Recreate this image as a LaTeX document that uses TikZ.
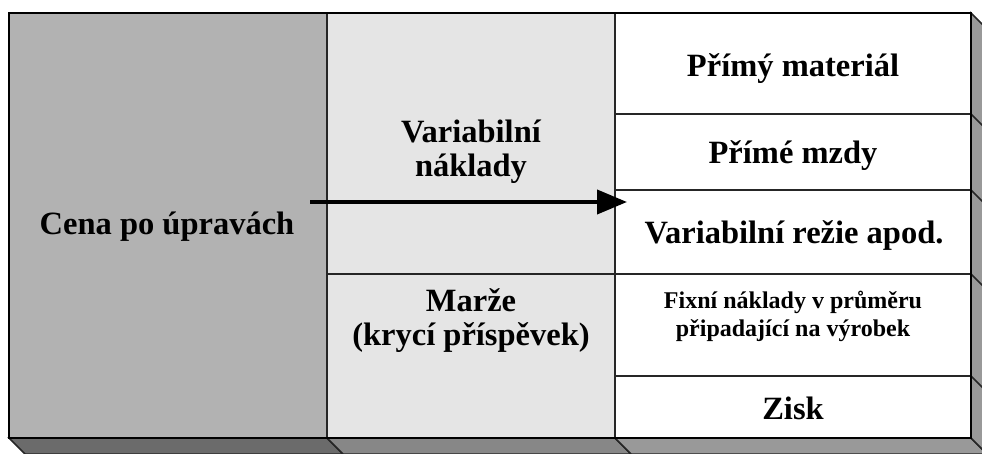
\documentclass[tikz,border=0pt]{standalone}
\usepackage{fontspec}
\setmainfont{Liberation Serif}
\usetikzlibrary{arrows.meta}
\tikzset{
  celltext/.style={font=\bfseries\fontsize{32.5}{34}\selectfont,align=center},
  smalltext/.style={font=\bfseries\fontsize{24}{28}\selectfont,align=center},
  cellline/.style={draw=black!85,line width=1.5pt},
}
\begin{document}
\begin{tikzpicture}[x=1pt,y=-1pt]
  \useasboundingbox (0,0) rectangle (982,454);
  \clip (0,0) rectangle (982,454);
  % depth faces
  \filldraw[fill=black!58,cellline] (9,438) -- (327,438) -- (343,454) -- (25,454) -- cycle;
  \filldraw[fill=black!47,cellline] (327,438) -- (615,438) -- (631,454) -- (343,454) -- cycle;
  \filldraw[fill=black!40,cellline] (615,438) -- (971,438) -- (987,454) -- (631,454) -- cycle;
  \filldraw[fill=black!40,cellline] (971,13) -- (987,29) -- (987,454) -- (971,438) -- cycle;
  \foreach \yy in {114,190,274,376}
    \draw[cellline] (971,\yy) -- (987,\yy+16);
  % columns
  \filldraw[fill=black!30,cellline] (9,13) rectangle (327,438);
  \filldraw[fill=black!10,cellline] (327,13) rectangle (615,274);
  \filldraw[fill=black!10,cellline] (327,274) rectangle (615,438);
  \foreach \ya/\yb in {13/114,114/190,190/274,274/376,376/438}
    \filldraw[fill=white,cellline] (615,\ya) rectangle (971,\yb);
  \draw[line width=2pt] (9,13) rectangle (971,438);
  % texts
  \node[celltext] (cena) at (167,227) {Cena po úpravách};
  \node[celltext] (varnakl) at (471,152) {Variabilní\\náklady};
  \node[celltext] (marze) at (471,321) {Marže\\(krycí příspěvek)};
  \node[celltext] (material) at (793,69) {Přímý materiál};
  \node[celltext] (mzdy) at (793,156) {Přímé mzdy};
  \node[celltext] (rezie) at (794,236) {Variabilní režie apod.};
  \node[smalltext] (fixni) at (793,316) {Fixní náklady v průměru\\připadající na výrobek};
  \node[celltext] (zisk) at (793,408) {Zisk};
  % arrow
  \coordinate (arrstart) at (310,202);
  \coordinate (arrend) at (627,202);
  \draw[line width=4pt,-{Triangle[length=30pt,width=24pt]}] (arrstart) -- (arrend);
\end{tikzpicture}
\end{document}
